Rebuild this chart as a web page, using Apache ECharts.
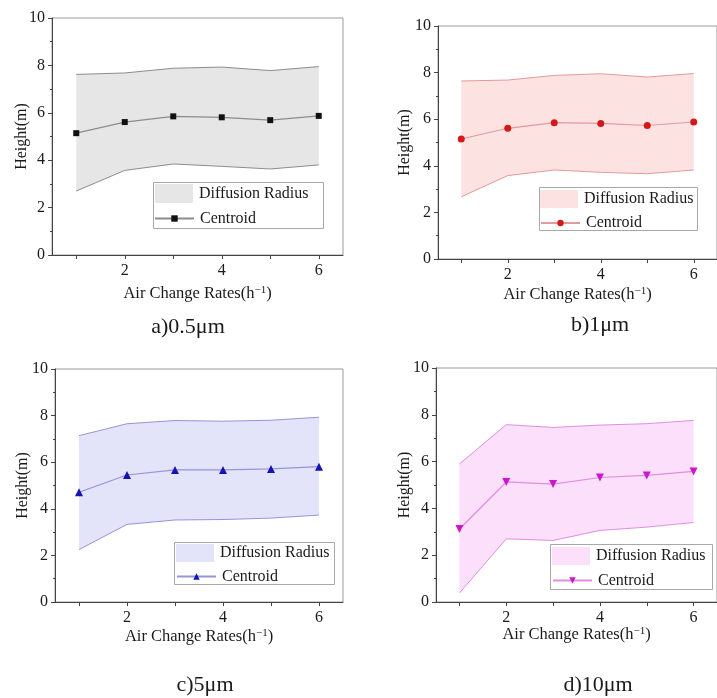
<!DOCTYPE html>
<html>
<head>
<meta charset="utf-8">
<script src="https://cdn.jsdelivr.net/npm/echarts@6/dist/echarts.min.js"></script>
<style>
  html, body { margin: 0; padding: 0; background: #fff; }
  #chart { width: 717px; height: 698px; }
</style>
</head>
<body>
<div id="chart"></div>
<script>
// Air change rates (h^-1) on the x axis
const rates = [1, 2, 3, 4, 5, 6];
const xTickValues = [1, 2, 3, 4, 5, 6];
const xLabelValues = [2, 4, 6];

// a) 0.5 µm
const upperA = [7.62, 7.68, 7.88, 7.93, 7.78, 7.95];
const lowerA = [2.70, 3.57, 3.84, 3.74, 3.63, 3.80];
const centroidA = [5.14, 5.61, 5.85, 5.81, 5.69, 5.87];

// b) 1 µm
const upperB = [7.64, 7.68, 7.88, 7.95, 7.81, 7.96];
const lowerB = [2.67, 3.58, 3.82, 3.72, 3.66, 3.82];
const centroidB = [5.15, 5.61, 5.85, 5.82, 5.73, 5.88];

// c) 5 µm
const upperC = [7.14, 7.65, 7.79, 7.76, 7.80, 7.93];
const lowerC = [2.25, 3.33, 3.52, 3.54, 3.60, 3.73];
const centroidC = [4.71, 5.45, 5.67, 5.67, 5.71, 5.81];

// d) 10 µm
const upperD = [5.90, 7.58, 7.46, 7.56, 7.62, 7.76];
const lowerD = [0.38, 2.70, 2.63, 3.06, 3.20, 3.40];
const centroidD = [3.12, 5.13, 5.04, 5.32, 5.41, 5.58];

const captions = ['a)0.5μm', 'b)1μm', 'c)5μm', 'd)10μm'];
const bandLabel = 'Diffusion Radius';
const centroidLabel = 'Centroid';

const FONT = 'Liberation Serif, Times New Roman, serif';
const TEXT = '#1a1a1a';

// per-panel layout and styling
const panels = [
  { upper: upperA, lower: lowerA, centroid: centroidA,
    grid: { left: 52, top: 18, width: 291, height: 237 },
    fill: '#e6e6e6', edge: '#8c8c8c', marker: '#111111', symbol: 'rect', symbolSize: 6,
    xGap: 30, yGap: 22,
    legend: { box: [153, 182, 170, 46], band: [155, 184, 19], cent: [154, 210.5] },
    caption: [188, 327] },
  { upper: upperB, lower: lowerB, centroid: centroidB,
    grid: { left: 438, top: 26, width: 288, height: 233 },
    fill: '#fde2e2', edge: '#e29a9a', marker: '#d41818', symbol: 'circle', symbolSize: 7,
    xGap: 27, yGap: 25,
    legend: { box: [539, 187, 158, 43], band: [540, 190, 18], cent: [540, 215] },
    caption: [600, 325] },
  { upper: upperC, lower: lowerC, centroid: centroidC,
    grid: { left: 55, top: 369, width: 288, height: 233 },
    fill: '#e3e3fa', edge: '#9494dc', marker: '#1414b4', symbol: 'triangle', symbolSize: 8,
    xGap: 26, yGap: 24,
    legend: { box: [174, 542, 160, 42], band: [176, 544, 18], cent: [176, 568.5] },
    caption: [205, 685] },
  { upper: upperD, lower: lowerD, centroid: centroidD,
    grid: { left: 436, top: 368, width: 288, height: 234 },
    fill: '#fbdffb', edge: '#e08ee0', marker: '#cc18cc', symbol: 'path://M0,0 L10,0 L5,9 Z', symbolSize: 8,
    xGap: 24, yGap: 23,
    legend: { box: [550, 544, 162, 45], band: [552, 547, 18], cent: [552, 572.5] },
    caption: [598, 685] }
];

const pairs = ys => rates.map((x, i) => [x, ys[i]]);

const grids = [], xAxes = [], yAxes = [], series = [], legends = [], graphics = [];
const nameMap = {};

panels.forEach((p, i) => {
  grids.push(Object.assign({
    show: true, borderColor: '#9a9a9a', borderWidth: 1, backgroundColor: 'transparent',
    containLabel: false
  }, p.grid));

  xAxes.push({
    gridIndex: i, type: 'value', min: 0.5, max: 6.5,
    axisLine: { show: true, onZero: false, lineStyle: { color: '#444', width: 1 } },
    axisTick: { show: true, inside: false, length: 4, customValues: xTickValues,
      lineStyle: { color: '#444' } },
    axisLabel: { customValues: xLabelValues, fontFamily: FONT, fontSize: 16, color: TEXT, margin: 8 },
    splitLine: { show: false },
    name: 'Air Change Rates(h{s|−1})',
    nameLocation: 'middle', nameGap: p.xGap, nameMoveOverlap: false,
    nameTextStyle: {
      fontFamily: FONT, fontSize: 16.5, color: TEXT, lineHeight: 18,
      rich: { s: { fontFamily: FONT, fontSize: 11, color: TEXT, verticalAlign: 'top', lineHeight: 18 } }
    }
  });

  yAxes.push({
    gridIndex: i, type: 'value', min: 0, max: 10, interval: 2,
    axisLine: { show: true, onZero: false, lineStyle: { color: '#444', width: 1 } },
    axisTick: { show: true, inside: false, length: 4, lineStyle: { color: '#444' } },
    minorTick: { show: true, splitNumber: 2, length: 2, lineStyle: { color: '#444' } },
    axisLabel: { fontFamily: FONT, fontSize: 16, color: TEXT, margin: 7 },
    splitLine: { show: false },
    minorSplitLine: { show: false },
    name: 'Height(m)', nameLocation: 'middle', nameRotate: 90, nameGap: p.yGap,
    nameMoveOverlap: false,
    nameTextStyle: { fontFamily: FONT, fontSize: 16, color: TEXT }
  });

  const bandName = 'band-' + i;
  const centName = 'centroid-' + i;
  nameMap[bandName] = bandLabel;
  nameMap[centName] = centroidLabel;

  // filled diffusion-radius band: one polygon through the upper edge and back along the lower edge
  series.push({
    name: bandName, type: 'custom', xAxisIndex: i, yAxisIndex: i, silent: true,
    data: rates.map((x, k) => [x, p.lower[k], p.upper[k]]),
    encode: { x: 0, y: [1, 2] },
    itemStyle: { color: p.fill },
    z: 1,
    renderItem: (params, api) => {
      if (params.dataIndex !== 0) return null;
      const top = rates.map((x, k) => api.coord([x, p.upper[k]]));
      const bottom = rates.map((x, k) => api.coord([x, p.lower[k]])).reverse();
      return {
        type: 'polygon',
        shape: { points: top.concat(bottom) },
        style: { fill: p.fill, stroke: 'none' }
      };
    }
  });
  // band edges
  series.push({
    name: 'upper-' + i, type: 'line', xAxisIndex: i, yAxisIndex: i, silent: true,
    data: pairs(p.upper), symbol: 'none',
    lineStyle: { color: p.edge, width: 1 }, itemStyle: { color: p.edge }, z: 2
  });
  series.push({
    name: 'lower-' + i, type: 'line', xAxisIndex: i, yAxisIndex: i, silent: true,
    data: pairs(p.lower), symbol: 'none',
    lineStyle: { color: p.edge, width: 1 }, itemStyle: { color: p.edge }, z: 2
  });
  // centroid height
  series.push({
    name: centName, type: 'line', xAxisIndex: i, yAxisIndex: i,
    data: pairs(p.centroid), symbol: p.symbol, symbolSize: p.symbolSize, showSymbol: true,
    lineStyle: { color: p.edge, width: 1.2 }, itemStyle: { color: p.marker }, z: 3
  });

  const L = p.legend;
  legends.push({
    data: [{ name: bandName, icon: 'rect', itemStyle: { color: p.fill, borderWidth: 0 } }],
    left: L.band[0], top: L.band[1], itemWidth: 38, itemHeight: L.band[2], padding: 0,
    selectedMode: false, formatter: n => nameMap[n],
    textStyle: { fontFamily: FONT, fontSize: 16, color: TEXT, padding: [0, 0, 0, 1] }
  });
  legends.push({
    data: [{ name: centName }],
    left: L.cent[0], top: L.cent[1], itemWidth: 39, itemHeight: 8, padding: 0,
    selectedMode: false, formatter: n => nameMap[n],
    textStyle: { fontFamily: FONT, fontSize: 16, color: TEXT, padding: [0, 0, 0, 1] }
  });

  graphics.push({
    type: 'rect', z: 10, silent: true,
    shape: { x: L.box[0] + 0.5, y: L.box[1] + 0.5, width: L.box[2], height: L.box[3] },
    style: { fill: 'none', stroke: '#a8a8a8', lineWidth: 1 }
  });
  graphics.push({
    type: 'text', x: p.caption[0], y: p.caption[1], silent: true,
    style: { text: captions[i], fill: TEXT, font: '22px ' + FONT, align: 'center', verticalAlign: 'middle' }
  });
});

const chart = echarts.init(document.getElementById('chart'), null, { renderer: 'canvas' });
chart.setOption({
  animation: false,
  backgroundColor: '#ffffff',
  grid: grids,
  xAxis: xAxes,
  yAxis: yAxes,
  series: series,
  legend: legends,
  graphic: graphics
});
</script>
</body>
</html>
